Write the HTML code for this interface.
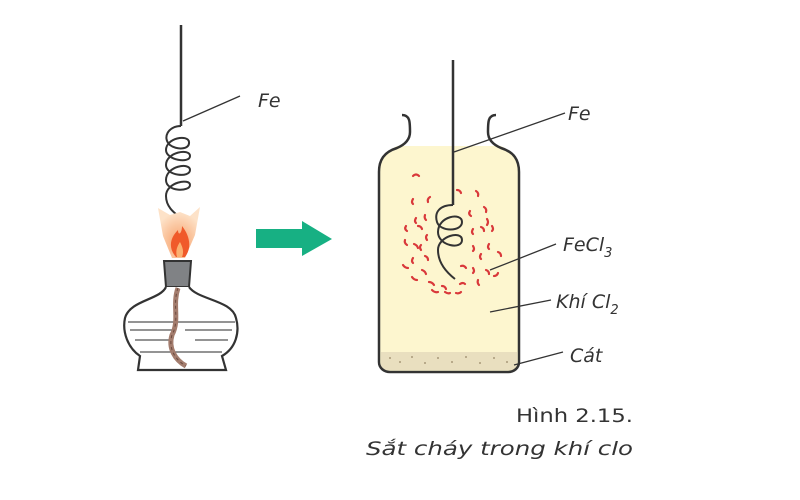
<!DOCTYPE html>
<html><head><meta charset="utf-8"><style>
html,body{margin:0;padding:0;background:#fff;}
svg{display:block;}
text{font-family:"DejaVu Sans","Liberation Sans",sans-serif;fill:#333;}
</style></head><body>
<svg width="800" height="500" viewBox="0 0 800 500" xmlns="http://www.w3.org/2000/svg">
<defs>
<radialGradient id="fl" cx="0.5" cy="0.7" r="0.6">
<stop offset="0" stop-color="#f7a06a"/><stop offset="1" stop-color="#fde2c8"/>
</radialGradient>
</defs>
<line x1="181" y1="25" x2="181" y2="126" stroke="#333" stroke-width="2.5"/>
<path d="M181,126 C168,126 162,138 170,145 C176,150 190,150 189,142 C188,134 166,138 166,150 C166,160 190,164 190,156 C190,148 166,152 166,165 C166,176 190,178 190,170 C190,162 166,166 166,180 C166,192 190,192 190,185 C190,178 166,182 166,196 C166,208 176,214 182,219" fill="none" stroke="#333" stroke-width="2"/>
<line x1="183" y1="121" x2="240" y2="96" stroke="#333" stroke-width="1.3"/>
<text x="258" y="107" font-size="19" font-style="italic">Fe</text>
<path d="M158,208 L170,215 L180,212 L190,216 L200,207 L195,235 L185,258 L172,258 L163,236 Z" fill="url(#fl)"/>
<path d="M176,257 C168,248 170,238 178,230 C178,236 182,234 182,226 C190,236 192,248 185,257 Z" fill="#f05a2a"/>
<path d="M177,257 C175,250 178,245 180,242 C183,248 184,252 182,257 Z" fill="#fbb070"/>
<path d="M164,261 L191,261 L189,287 L166,287 Z" fill="#808285" stroke="#333" stroke-width="2"/>
<path d="M166,287 C160,300 130,300 125,318 C122,332 128,348 140,356 L138,370 L226,370 L222,356 C236,348 240,332 236,318 C232,300 198,300 189,287" fill="#fff" stroke="#333" stroke-width="2.2"/>
<g stroke="#555" stroke-width="1.3">
<line x1="128" y1="322" x2="235" y2="322"/><line x1="130" y1="330" x2="175" y2="330"/>
<line x1="185" y1="330" x2="232" y2="330"/><line x1="135" y1="340" x2="170" y2="340"/>
<line x1="195" y1="340" x2="228" y2="340"/><line x1="140" y1="352" x2="222" y2="352"/>
</g>
<path d="M178,288 C172,305 180,320 172,335 C168,348 175,360 186,366" fill="none" stroke="#a47d6e" stroke-width="5"/>
<path d="M178,288 C172,305 180,320 172,335 C168,348 175,360 186,366" fill="none" stroke="#6b4a3e" stroke-width="1" stroke-dasharray="3 3"/>
<path d="M256,229 L302,229 L302,221 L332,239 L302,256 L302,248 L256,248 Z" fill="#17b083"/>
<path d="M397,146 C384,152 379,160 379,172 L379,362 C379,368 384,372 390,372 L508,372 C514,372 519,368 519,362 L519,172 C519,160 514,152 501,146 Z" fill="#fdf6cf"/>
<rect x="381" y="352" width="136" height="18" fill="#e9dfbf"/>
<g fill="#a89a7a"><circle cx="390" cy="358" r="1"/><circle cx="400" cy="362" r="1"/><circle cx="412" cy="357" r="1"/><circle cx="425" cy="363" r="1"/><circle cx="438" cy="358" r="1"/><circle cx="452" cy="362" r="1"/><circle cx="466" cy="357" r="1"/><circle cx="480" cy="363" r="1"/><circle cx="494" cy="358" r="1"/><circle cx="507" cy="362" r="1"/></g>
<path d="M402,115 C410,115 410,122 410,132 C410,140 404,145 397,148 C384,152 379,160 379,172 L379,362 C379,368 384,372 390,372 L508,372 C514,372 519,368 519,362 L519,172 C519,160 514,152 501,148 C494,145 488,140 488,132 C488,122 488,115 496,115" fill="none" stroke="#333" stroke-width="2.5"/>
<g fill="none" stroke="#d9383a" stroke-width="2.2" stroke-linecap="round">
<path d="M413,176 q3,-3 6,0"/><path d="M413,199 q-2,3 0,5"/><path d="M430,197 q-3,2 -2,5"/><path d="M457,190 q3,0 4,3"/><path d="M476,191 q3,2 2,5"/>
<path d="M416,218 q-2,3 0,5"/><path d="M425,215 q-1,3 1,5"/><path d="M470,211 q-2,3 1,5"/><path d="M484,207 q3,2 2,5"/><path d="M487,219 q2,3 0,6"/>
<path d="M406,226 q-2,3 1,5"/><path d="M418,226 q3,0 4,3"/><path d="M427,235 q-2,2 0,5"/><path d="M473,229 q-2,3 0,5"/><path d="M481,227 q3,1 3,4"/><path d="M492,226 q2,3 0,5"/>
<path d="M405,240 q-1,3 2,5"/><path d="M414,244 q3,1 4,4"/><path d="M421,245 q-2,2 0,5"/><path d="M473,246 q2,3 0,5"/><path d="M489,244 q-2,3 0,5"/>
<path d="M413,258 q-2,3 0,5"/><path d="M425,256 q3,1 3,4"/><path d="M481,254 q-2,3 0,5"/><path d="M498,252 q3,1 3,4"/>
<path d="M403,265 q2,3 5,3"/><path d="M422,270 q3,1 4,4"/><path d="M461,266 q3,-1 5,2"/><path d="M473,268 q2,3 0,5"/><path d="M486,270 q3,1 3,4"/><path d="M494,276 q3,0 4,-3"/>
<path d="M412,277 q2,3 5,3"/><path d="M429,282 q3,0 5,3"/><path d="M442,286 q3,0 4,3"/><path d="M460,284 q3,-2 5,0"/><path d="M478,280 q-1,3 1,5"/>
<path d="M432,290 q3,3 6,2"/><path d="M445,292 q3,2 5,1"/><path d="M456,293 q3,1 5,-1"/>
</g>
<line x1="453" y1="60" x2="453" y2="205" stroke="#333" stroke-width="2.5"/>
<path d="M453,205 C440,205 434,212 437,222 C440,232 462,232 462,222 C462,212 438,216 438,232 C438,246 462,250 462,240 C462,230 438,236 438,250 C438,262 446,272 455,279" fill="none" stroke="#333" stroke-width="2"/>
<g stroke="#333" stroke-width="1.3">
<line x1="454" y1="152" x2="565" y2="113"/>
<line x1="490" y1="270" x2="556" y2="244"/>
<line x1="490" y1="312" x2="551" y2="300"/>
<line x1="514" y1="365" x2="563" y2="352"/>
</g>
<text x="568" y="120" font-size="19" font-style="italic">Fe</text>
<text x="563" y="251" font-size="19" font-style="italic">FeCl<tspan font-size="13" dy="6">3</tspan></text>
<text x="556" y="308" font-size="19" font-style="italic">Khí Cl<tspan font-size="13" dy="6">2</tspan></text>
<text x="570" y="362" font-size="19" font-style="italic">Cát</text>
<text x="516" y="422" font-size="19" textLength="117" lengthAdjust="spacingAndGlyphs">Hình 2.15.</text>
<text x="366" y="455" font-size="19" font-style="italic" textLength="267" lengthAdjust="spacingAndGlyphs">Sắt cháy trong khí clo</text>
</svg>
</body></html>
